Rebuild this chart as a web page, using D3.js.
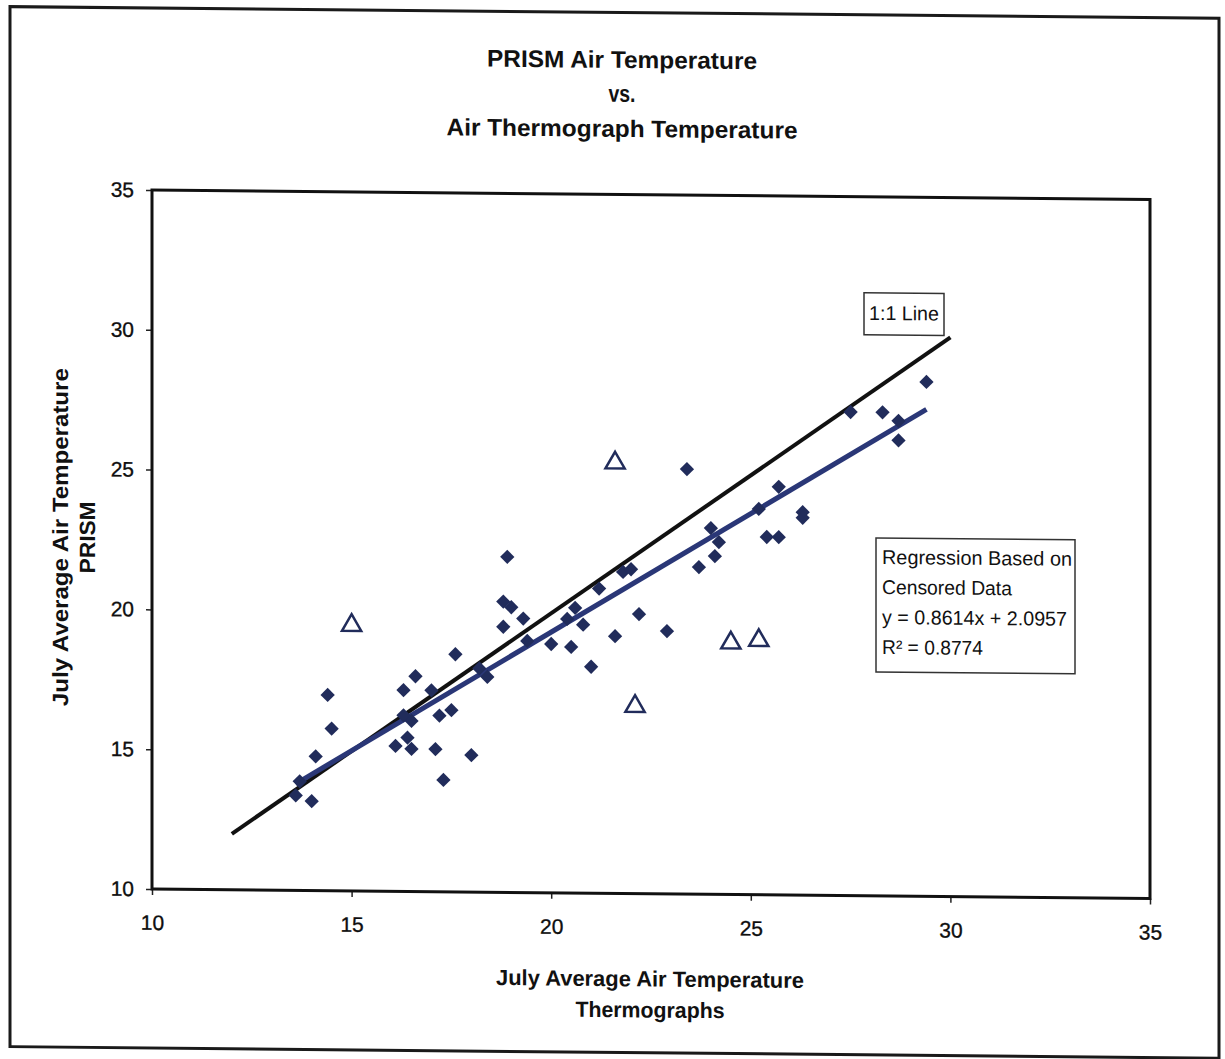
<!DOCTYPE html>
<html>
<head>
<meta charset="utf-8">
<script src="https://cdn.jsdelivr.net/npm/d3@7"></script>
<style>
  body { margin: 0; background: #fff; }
  text { font-family: "Liberation Sans Narrow", "Arial Narrow", "Liberation Sans", Arial, sans-serif; fill: #111; }
</style>
</head>
<body>
<div id="chart"></div>
<script>
// thermograph (x) vs PRISM (y), censored data used for the regression
var thermoX = [13.6, 14.0, 14.1, 14.4, 14.5, 13.7, 16.1, 16.3, 16.3, 16.4, 16.5, 16.5, 16.6, 17.0, 17.1, 17.2, 17.3, 17.5, 17.6, 18.0,
               18.2, 18.4, 18.8, 18.8, 18.9, 19.0, 19.3, 19.4, 20.0, 20.4, 20.5, 20.6, 20.8, 21.0, 21.2, 21.6, 21.8, 22.0, 22.2, 22.9,
               23.4, 23.7, 24.0, 24.1, 24.2, 25.2, 25.4, 25.7, 25.7, 26.3, 26.3, 27.5, 28.3, 28.7, 28.7, 29.4];
var prismY  = [13.4, 13.2, 14.8, 17.0, 15.8, 13.9, 15.2, 17.2, 16.3, 15.5, 15.1, 16.1, 17.7, 17.2, 15.1, 16.3, 14.0, 16.5, 18.5, 14.9,
               18.0, 17.7, 19.5, 20.4, 22.0, 20.2, 19.8, 19.0, 18.9, 19.8, 18.8, 20.2, 19.6, 18.1, 20.9, 19.2, 21.5, 21.6, 20.0, 19.4,
               25.2, 21.7, 23.1, 22.1, 22.6, 23.8, 22.8, 22.8, 24.6, 23.7, 23.5, 27.3, 27.3, 27.0, 26.3, 28.4];

// points left out of the regression (open triangles)
var outX = [15.0, 21.6, 22.1, 24.5, 25.2];
var outY = [19.5, 25.4, 16.7, 19.0, 19.1];

var oneToOne = [12, 30];
var slope = 0.8614;
var intercept = 2.0957;

var xTicks = [10, 15, 20, 25, 30, 35];
var yTicks = [10, 15, 20, 25, 30, 35];

var titleLines = ["PRISM Air Temperature", "vs.", "Air Thermograph Temperature"];
var xTitleLines = ["July Average Air Temperature", "Thermographs"];
var yTitleLines = ["July Average Air Temperature", "PRISM"];
var regLines = ["Regression Based on", "Censored Data", "y = 0.8614x + 2.0957", "R\u00b2 = 0.8774"];

var width = 1225, height = 1059;
var plotLeft = 152, plotRight = 1150, plotTop = 190, plotBottom = 889;
var navy = "#212c5b";

var svg = d3.select("#chart").append("svg")
    .attr("width", width)
    .attr("height", height);

// the scan is a little bit sheared, right side sits lower
var g = svg.append("g")
    .attr("transform", "translate(" + plotLeft + "," + plotBottom + ") skewY(0.55) translate(" + (-plotLeft) + "," + (-plotBottom) + ")");

var x = d3.scaleLinear().domain([10, 35]).range([plotLeft, plotRight]);
var y = d3.scaleLinear().domain([10, 35]).range([plotBottom, plotTop]);

// outer frame
g.append("rect")
    .attr("x", 10).attr("y", 8)
    .attr("width", 1209).attr("height", 1040)
    .attr("fill", "none").attr("stroke", "#1a1a1a").attr("stroke-width", 3);

// titles
var titleY = [55, 89, 124];
var titleW = [270, 27, 351];
titleLines.forEach(function(t, i) {
    g.append("text")
        .attr("x", 622).attr("y", titleY[i])
        .attr("dy", "0.35em")
        .attr("text-anchor", "middle")
        .attr("font-size", 24).attr("font-weight", "bold")
        .attr("textLength", titleW[i]).attr("lengthAdjust", "spacingAndGlyphs")
        .text(t);
});

// axes
var xAxis = d3.axisBottom(x).tickValues(xTicks).tickSize(6).tickPadding(20);
var yAxis = d3.axisLeft(y).tickValues(yTicks).tickSize(6).tickPadding(12);

var gx = g.append("g").attr("transform", "translate(0," + plotBottom + ")").call(xAxis);
var gy = g.append("g").attr("transform", "translate(" + plotLeft + ",0)").call(yAxis);
[gx, gy].forEach(function(a) {
    a.select(".domain").remove();
    a.selectAll("line").attr("stroke", "#222").attr("stroke-width", 1.5);
    a.selectAll("text")
        .attr("font-size", 21)
        .attr("font-family", "'Liberation Sans Narrow', 'Liberation Sans', Arial, sans-serif")
        .attr("fill", "#000")
        .attr("stroke", "#000").attr("stroke-width", 0.3);
});

// plot box
g.append("rect")
    .attr("x", plotLeft).attr("y", plotTop)
    .attr("width", plotRight - plotLeft).attr("height", plotBottom - plotTop)
    .attr("fill", "none").attr("stroke", "#111").attr("stroke-width", 3);

// axis titles
var xTitleY = [974, 1005];
var xTitleW = [308, 149];
xTitleLines.forEach(function(t, i) {
    g.append("text")
        .attr("x", 650).attr("y", xTitleY[i])
        .attr("dy", "0.35em")
        .attr("text-anchor", "middle")
        .attr("font-size", 22).attr("font-weight", "bold")
        .attr("textLength", xTitleW[i]).attr("lengthAdjust", "spacingAndGlyphs")
        .text(t);
});

var yTitleX = [60, 87];
var yTitleW = [338, 72];
yTitleLines.forEach(function(t, i) {
    g.append("text")
        .attr("transform", "translate(" + yTitleX[i] + ",538) rotate(-90)")
        .attr("dy", "0.35em")
        .attr("text-anchor", "middle")
        .attr("font-size", 22).attr("font-weight", "bold")
        .attr("textLength", yTitleW[i]).attr("lengthAdjust", "spacingAndGlyphs")
        .text(t);
});

// 1:1 line
g.append("line")
    .attr("x1", x(oneToOne[0])).attr("y1", y(oneToOne[0]))
    .attr("x2", x(oneToOne[1])).attr("y2", y(oneToOne[1]))
    .attr("stroke", "#111").attr("stroke-width", 4);

// regression line over the range of the censored data
var xr = d3.extent(thermoX);
g.append("line")
    .attr("x1", x(xr[0])).attr("y1", y(slope * xr[0] + intercept))
    .attr("x2", x(xr[1])).attr("y2", y(slope * xr[1] + intercept))
    .attr("stroke", "#2a3777").attr("stroke-width", 5);

// diamonds
var pts = thermoX.map(function(v, i) { return { x: v, y: prismY[i] }; });
g.selectAll("path.dia")
    .data(pts)
    .enter().append("path")
    .attr("class", "dia")
    .attr("d", d3.symbol().type(d3.symbolDiamond2).size(130))
    .attr("transform", function(d) { return "translate(" + x(d.x) + "," + y(d.y) + ")"; })
    .attr("fill", navy);

// open triangles
var outs = outX.map(function(v, i) { return { x: v, y: outY[i] }; });
g.selectAll("path.tri")
    .data(outs)
    .enter().append("path")
    .attr("class", "tri")
    .attr("d", d3.symbol().type(d3.symbolTriangle).size(160))
    .attr("transform", function(d) { return "translate(" + x(d.x) + "," + y(d.y) + ")"; })
    .attr("fill", "none")
    .attr("stroke", navy).attr("stroke-width", 2.5);

// label boxes
g.append("rect")
    .attr("x", 864).attr("y", 286).attr("width", 80).attr("height", 42)
    .attr("fill", "#fff").attr("stroke", "#333").attr("stroke-width", 1.5);
g.append("text")
    .attr("x", 869).attr("y", 306).attr("dy", "0.35em")
    .attr("font-size", 20)
    .attr("textLength", 70).attr("lengthAdjust", "spacingAndGlyphs")
    .text("1:1 Line");

g.append("rect")
    .attr("x", 876).attr("y", 531).attr("width", 199).attr("height", 134)
    .attr("fill", "#fff").attr("stroke", "#333").attr("stroke-width", 1.5);
var regW = [190, 130, 185, 101];
regLines.forEach(function(t, i) {
    g.append("text")
        .attr("x", 882).attr("y", 550 + i * 30).attr("dy", "0.35em")
        .attr("font-size", 20)
        .attr("textLength", regW[i]).attr("lengthAdjust", "spacingAndGlyphs")
        .text(t);
});
</script>
</body>
</html>
